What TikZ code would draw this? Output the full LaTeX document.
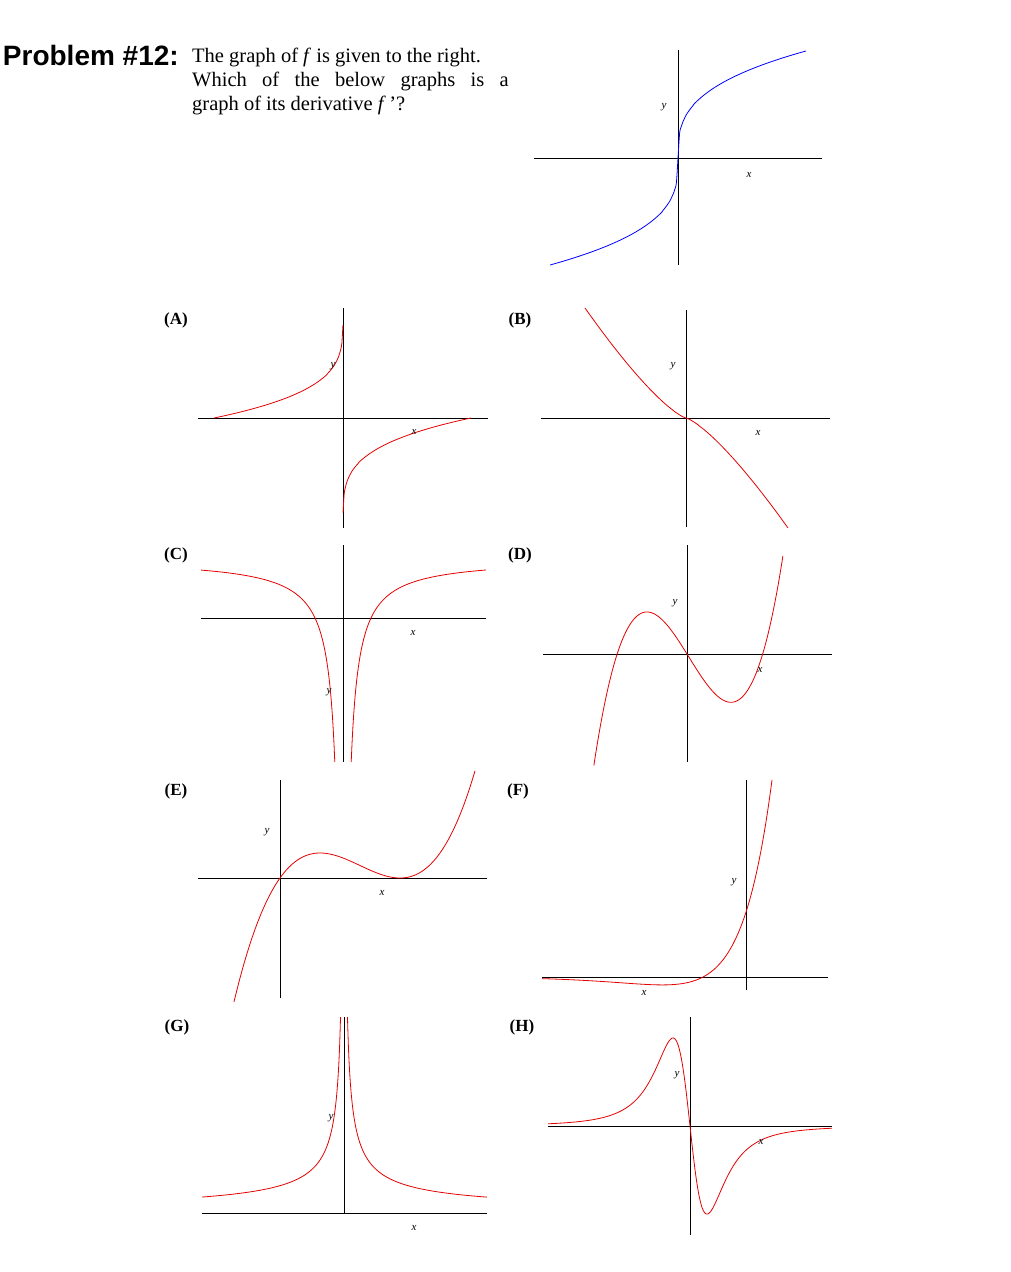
\documentclass[tikz,border=0pt]{standalone}
\usepackage{fontspec}
\setmainfont{Liberation Serif}
\newfontfamily\hdfont{Liberation Sans}
\begin{document}
\begin{tikzpicture}[x=1pt,y=-1pt,
  ax/.style={black,line width=0.8pt},
  cv/.style={red!90!black,line width=0.8pt,smooth},
  lab/.style={font=\fontsize{11}{11}\selectfont\itshape,inner sep=0pt},
  tag/.style={font=\fontsize{17}{17}\selectfont\bfseries,inner sep=0pt}]
\useasboundingbox (0,0) rectangle (1010,1272);
\node[anchor=east,inner sep=0pt,font=\hdfont\fontsize{28}{28}\selectfont\bfseries] (hd) at (179,55) {Problem \#12:};
\node[anchor=north west,inner sep=0pt,align=left,font=\fontsize{20.5}{24}\selectfont] (q) at (192,48)
 {The graph of \textit{f} is given to the right.\\Which\hspace{0.75em}of\hspace{0.75em}the\hspace{0.75em}below\hspace{0.75em}graphs\hspace{0.75em}is\hspace{0.75em}a\\graph of its derivative \textit{f}\,'?};
% f
\draw[ax] (534,158) -- (822,158); \draw[ax] (678,50) -- (678,265);
\draw[blue,line width=0.8pt,smooth] plot[domain=-128:0,samples=80] ({678+\x},{158+107*(-\x/128)^(1/3)});
\draw[blue,line width=0.8pt,smooth] plot[domain=0:128,samples=80] ({678+\x},{158-107*(\x/128)^(1/3)});
\node[lab] (fy) at (664,107) {y}; \node[lab] (fx) at (749,175) {x};
% A
\node[tag] (tA) at (176,320) {(A)};
\draw[ax] (198,418) -- (488,418); \draw[ax] (343,308) -- (343,528);
\draw[cv] plot[domain=-129:-0.05,samples=120] ({343+\x},{418-108*(1-(-\x/129)^0.25)});
\draw[cv] plot[domain=0.05:128,samples=120] ({343+\x},{418+110*(1-(\x/128)^0.25)});
\node[lab] at (333,366) {y}; \node[lab] at (414,432) {x};
% B
\node[tag] (tB) at (520,320) {(B)};
\draw[ax] (541,418) -- (830,418); \draw[ax] (686,310) -- (686,527);
\draw[cv] plot[domain=-101:0,samples=60] ({686+\x},{418-110*(-\x/101)^1.3});
\draw[cv] plot[domain=0:102,samples=60] ({686+\x},{418+110*(\x/102)^1.3});
\node[lab] at (673,366) {y}; \node[lab] at (758,433) {x};
% C
\node[tag] (tC) at (176,555) {(C)};
\draw[ax] (201,618) -- (486,618); \draw[ax] (343,545) -- (343,762);
\draw[cv] plot[domain=-142:-8.2,samples=150] ({343+\x},{618-59.7+1671/(-\x)});
\draw[cv] plot[domain=8.2:143,samples=150] ({343+\x},{618-59.7+1671/\x});
\node[lab] at (329,692) {y}; \node[lab] at (413,633) {x};
% D
\node[tag] (tD) at (520,555) {(D)};
\draw[ax] (543,654) -- (832,654); \draw[ax] (687,545) -- (687,762);
\draw[cv] plot[domain=-0.96:0.99,samples=120] ({687+97*\x},{654-278*\x*(\x+0.72)*(\x-0.78)});
\node[lab] at (675,603) {y}; \node[lab] at (760,670) {x};
% E
\node[tag] (tE) at (176,791) {(E)};
\draw[ax] (198,878) -- (487,878); \draw[ax] (280,780) -- (280,998);
\draw[cv] plot[domain=-0.46:1.95,samples=150] ({280+100*\x},{878-97.7*\x*(\x-1.2)^2});
\node[lab] at (267,832) {y}; \node[lab] at (382,893) {x};
% F
\node[tag] (tF) at (518,791) {(F)};
\draw[ax] (542,977) -- (828,977); \draw[ax] (746,780) -- (746,990);
\draw[cv] plot[domain=-204:26,samples=150] ({746+\x},{977-1.51*(\x+43)*exp(\x/40.8)});
\node[lab] at (734,882) {y}; \node[lab] at (644,993) {x};
% G
\node[tag] (tG) at (177,1027) {(G)};
\draw[ax] (202,1213) -- (487,1213); \draw[ax] (344,1017) -- (344,1213);
\draw[cv] plot[domain=-142:-3.46,samples=150] ({344+\x},{1213-453/((-\x)^0.675)});
\draw[cv] plot[domain=3.46:143,samples=150] ({344+\x},{1213-453/(\x^0.675)});
\node[lab] at (331,1118) {y}; \node[lab] at (414,1228) {x};
% H
\node[tag] (tH) at (522,1027) {(H)};
\draw[ax] (548,1126) -- (832,1126); \draw[ax] (690,1017) -- (690,1235);
\draw[cv] plot[domain=-1.42:1.42,samples=200] ({690+100*\x},{1126+6.92*\x/((\x*\x+0.0867)^2)});
\node[lab] at (677,1075) {y}; \node[lab] at (761,1142) {x};
\end{tikzpicture}
\end{document}
